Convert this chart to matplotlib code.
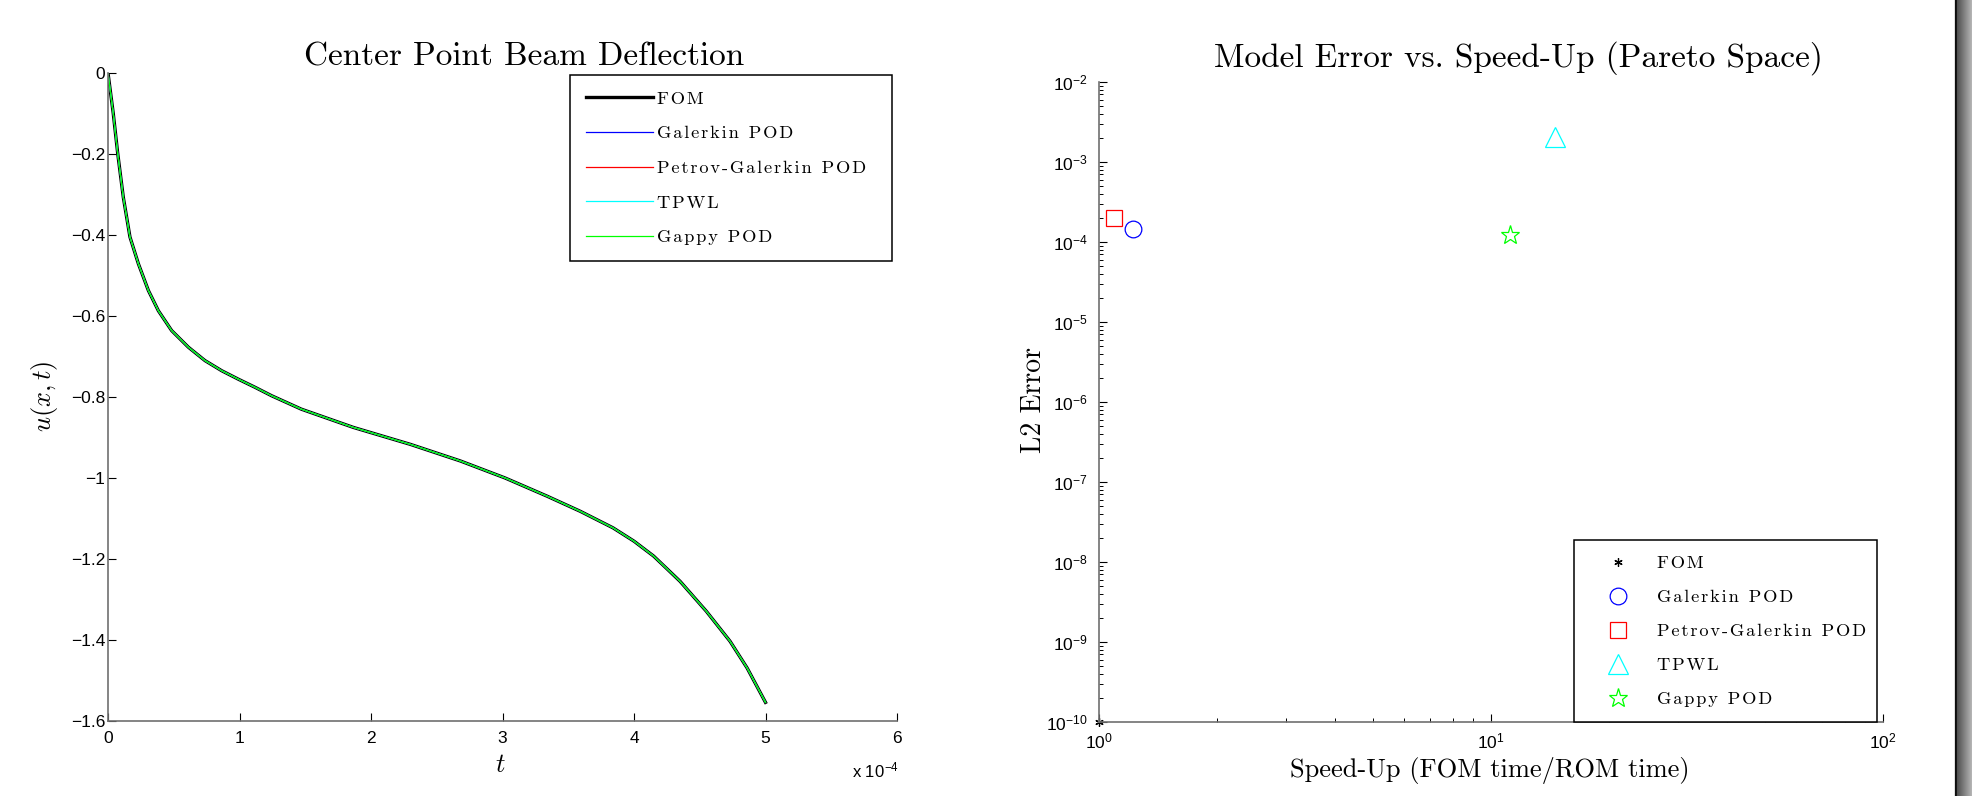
import matplotlib
matplotlib.use("Agg")
import matplotlib.pyplot as plt
import numpy as np
from matplotlib.font_manager import FontProperties
from matplotlib.ticker import LogLocator, FuncFormatter, NullFormatter

plt.rcParams["mathtext.fontset"] = "cm"
plt.rcParams["font.family"] = ["Liberation Sans", "DejaVu Sans"]
plt.rcParams["axes.unicode_minus"] = False

# centre point deflection history (t in units of 1e-4)
t_1e4 = [0, 0.04, 0.074, 0.116, 0.167, 0.231, 0.307, 0.383, 0.484, 0.611,
         0.737, 0.864, 0.991, 1.118, 1.245, 1.47, 1.865, 2.30, 2.68, 3.02,
         3.34, 3.59, 3.84, 4.0, 4.15, 4.35, 4.55, 4.73, 4.86, 5.0]
u_fom = [0, -0.1, -0.199, -0.306, -0.405, -0.471, -0.537, -0.587, -0.636,
         -0.677, -0.710, -0.735, -0.756, -0.776, -0.797, -0.830, -0.875,
         -0.917, -0.958, -1.0, -1.045, -1.082, -1.123, -1.156, -1.193,
         -1.255, -1.329, -1.403, -1.469, -1.554]
rom_labels = ["Galerkin POD", "Petrov-Galerkin POD", "TPWL", "Gappy POD"]
rom_colors = ["#0000ff", "#ff0000", "#00ffff", "#00ff00"]

# pareto data
methods = ["FOM", "Galerkin POD", "Petrov-Galerkin POD", "TPWL", "Gappy POD"]
speedup = [1.0, 1.22, 1.09, 14.6, 11.2]
l2_error = [1e-10, 1.47e-4, 2.0e-4, 2.07e-3, 1.23e-4]
markers = [(6, 2, 0), "o", "s", "^", "*"]
mcolors = ["#000000", "#0000ff", "#ff0000", "#00ffff", "#00ff00"]
msizes = [6, 12, 11, 14, 14]

W, H = 1972, 796
fig = plt.figure(figsize=(W / 100, H / 100), dpi=100)
fig.patch.set_facecolor("white")

CM = "cmr10"
AXC = "#707070"
LEGFONT = FontProperties(family=[CM, "DejaVu Sans"], size=13.2)


def spaced(s):
    # legend labels are set with a little tracking
    return "\u200a".join(s)


def px_axes(l, t, r, b):
    return fig.add_axes([l / W, 1 - b / H, (r - l) / W, (b - t) / H])


def style(ax):
    for s in ("top", "right"):
        ax.spines[s].set_visible(False)
    for s in ("left", "bottom"):
        ax.spines[s].set_color(AXC)
        ax.spines[s].set_linewidth(1.2)
    ax.tick_params(which="both", direction="in", colors="k", labelsize=12.5)
    ax.tick_params(which="major", length=6, width=0.8)
    ax.tick_params(which="minor", length=3, width=0.7)


# --- left: deflection vs time
ax1 = px_axes(108, 73, 897, 721)
style(ax1)
ax1.plot(t_1e4, u_fom, color="k", lw=2.4, label=spaced("FOM"))
for lab, c in zip(rom_labels, rom_colors):
    ax1.plot(t_1e4, u_fom, color=c, lw=0.9, label=spaced(lab))
ax1.set_xlim(0, 6)
ax1.set_ylim(-1.6, 0)
ax1.set_xticks(range(7))
ax1.set_yticks(np.arange(-1.6, 0.01, 0.2))
ax1.yaxis.set_major_formatter(
    FuncFormatter(lambda v, _: f"{round(v, 1) + 0:g}".replace("-", "\u2212")))
ax1.tick_params(axis="y", pad=2)
ax1.tick_params(axis="x", pad=7)
fig.text(524 / W, 1 - 57 / H, "Center Point Beam Deflection", family=CM,
         fontsize=24, ha="center", va="center")
fig.text(500 / W, 1 - 765 / H, r"$t$", fontsize=19, ha="center", va="center")
fig.text(44 / W, 1 - 396 / H, r"$u(x,t)$", fontsize=19, ha="center",
         va="center", rotation=90)
fig.text(899 / W, 1 - 770 / H, r"x 10$^{\mathdefault{-4}}$", fontsize=12,
         ha="right", va="center")
leg1 = ax1.legend(loc="upper left", mode="expand",
                  bbox_to_anchor=(570 / W, 1 - 75 / H - 0.5, 322 / W, 0.5),
                  bbox_transform=fig.transFigure, borderaxespad=0,
                  prop=LEGFONT, handlelength=3.65,
                  handletextpad=0.22, borderpad=0.86, labelspacing=1.03,
                  fancybox=False, framealpha=1, edgecolor="k")
leg1.get_frame().set_linewidth(1.1)

# --- right: pareto space
ax2 = px_axes(1099, 82, 1883, 722)
style(ax2)
ax2.set_xscale("log")
ax2.set_yscale("log")
for m, x, y, mk, c, ms in zip(methods, speedup, l2_error, markers, mcolors, msizes):
    ax2.plot([x], [y], linestyle="none", marker=mk, ms=ms, mfc="none",
             mec=c, mew=0.9, label=spaced(m), clip_on=False)
ax2.set_xlim(1, 100)
ax2.set_ylim(1e-10, 1e-2)
ax2.yaxis.set_major_locator(LogLocator(base=10, numticks=20))
ax2.yaxis.set_minor_locator(LogLocator(base=10, subs=np.arange(2, 10), numticks=20))
ax2.yaxis.set_minor_formatter(NullFormatter())
ax2.tick_params(axis="y", pad=8)
ax2.tick_params(axis="x", pad=7)
fig.text(1518 / W, 1 - 58 / H, "Model Error vs. Speed-Up (Pareto Space)",
         family=CM, fontsize=24, ha="center", va="center")
fig.text(1490 / W, 1 - 771 / H, "Speed-Up (FOM time/ROM time)", family=CM,
         fontsize=19, ha="center", va="center")
fig.text(1034 / W, 1 - 400 / H, "L2 Error", family=CM, fontsize=20,
         ha="center", va="center", rotation=90)
leg2 = ax2.legend(loc="lower left", mode="expand",
                  bbox_to_anchor=(1574 / W, 1 - 722 / H, 303 / W, 0.5),
                  bbox_transform=fig.transFigure, borderaxespad=0,
                  prop=LEGFONT, handlelength=3.16,
                  handletextpad=0.55, borderpad=0.82, labelspacing=0.99,
                  fancybox=False, framealpha=1, edgecolor="k")
leg2.get_frame().set_linewidth(1.1)

# window edge shading on the right
edge = fig.add_axes([1954 / W, 0, 18 / W, 1])
edge.axis("off")
cols = np.concatenate([[0.87, 0.05, 0.08], np.linspace(0.32, 0.7, 15)])
edge.imshow(np.tile(cols, (10, 1)), cmap="gray", vmin=0, vmax=1,
            aspect="auto", interpolation="nearest")

fig.savefig("out.png", dpi=100)
